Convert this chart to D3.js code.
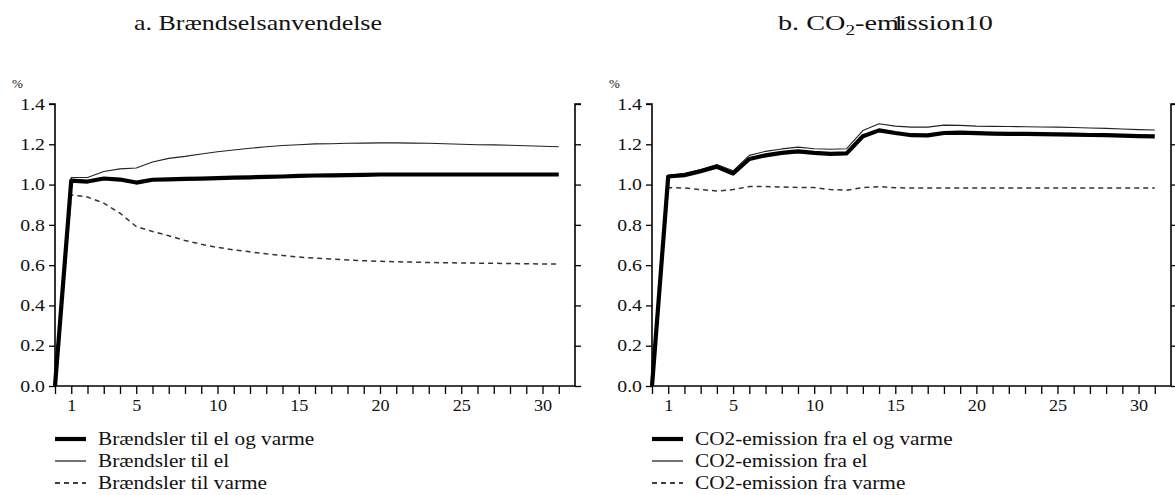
<!DOCTYPE html>
<html><head><meta charset="utf-8">
<script src="https://cdn.jsdelivr.net/npm/d3@7"></script>
<style>body{margin:0;background:#fff}svg{display:block}text{font-family:"Liberation Serif","Times New Roman",serif;fill:#111}</style>
</head><body><svg id="c" width="1175" height="495"></svg>
<script>
const periods = d3.range(0, 32);
const xTickLabels = [1, 5, 10, 15, 20, 25, 30];
const yTicks = [0, 0.2, 0.4, 0.6, 0.8, 1.0, 1.2, 1.4];

// Panel a: Brændselsanvendelse
const fuelTotal = [0, 1.02, 1.015, 1.03, 1.025, 1.01, 1.024, 1.026, 1.028, 1.03, 1.032, 1.034, 1.036, 1.038, 1.04, 1.043, 1.045, 1.046, 1.047, 1.048, 1.05, 1.05, 1.05, 1.05, 1.05, 1.05, 1.05, 1.05, 1.05, 1.05, 1.05, 1.05];
const fuelEl = [0, 1.035, 1.035, 1.065, 1.078, 1.082, 1.112, 1.13, 1.14, 1.152, 1.163, 1.172, 1.18, 1.188, 1.194, 1.198, 1.202, 1.203, 1.205, 1.206, 1.207, 1.207, 1.206, 1.205, 1.203, 1.2, 1.198, 1.197, 1.195, 1.193, 1.19, 1.188];
const fuelHeat = [0, 0.949, 0.938, 0.908, 0.858, 0.792, 0.767, 0.746, 0.722, 0.704, 0.688, 0.676, 0.666, 0.656, 0.648, 0.64, 0.635, 0.63, 0.626, 0.622, 0.619, 0.617, 0.615, 0.613, 0.612, 0.611, 0.61, 0.609, 0.608, 0.607, 0.606, 0.605];

// Panel b: CO2-emission
const co2Total = [0, 1.04, 1.047, 1.066, 1.088, 1.055, 1.127, 1.145, 1.157, 1.165, 1.157, 1.152, 1.155, 1.24, 1.269, 1.256, 1.245, 1.244, 1.256, 1.258, 1.255, 1.253, 1.252, 1.252, 1.25, 1.249, 1.248, 1.246, 1.245, 1.243, 1.241, 1.239];
const co2El = [0, 1.046, 1.055, 1.075, 1.1, 1.068, 1.145, 1.165, 1.177, 1.186, 1.178, 1.175, 1.178, 1.268, 1.302, 1.29, 1.285, 1.285, 1.295, 1.294, 1.29, 1.289, 1.288, 1.287, 1.286, 1.285, 1.283, 1.281, 1.279, 1.276, 1.273, 1.271];
const co2Heat = [0, 0.985, 0.983, 0.975, 0.968, 0.975, 0.99, 0.99, 0.988, 0.986, 0.985, 0.975, 0.972, 0.985, 0.99, 0.984, 0.983, 0.983, 0.983, 0.983, 0.983, 0.983, 0.983, 0.983, 0.983, 0.983, 0.983, 0.983, 0.983, 0.983, 0.983, 0.983];

const legendA = ["Brændsler til el og varme", "Brændsler til el", "Brændsler til varme"];
const legendB = ["CO2-emission fra el og varme", "CO2-emission fra el", "CO2-emission fra varme"];

const styles = [
  {w: 4.2, dash: null, color: "#000"},
  {w: 1.1, dash: null, color: "#222"},
  {w: 1.5, dash: "5,4", color: "#333"}
];

const svg = d3.select("#c");

// stretch text horizontally (the reference typeface is wider than Liberation Serif)
function stretch(sel, f) {
  sel.each(function() {
    const n = this.getComputedTextLength();
    if (n > 0) d3.select(this).attr("textLength", n * f).attr("lengthAdjust", "spacingAndGlyphs");
  });
}

function panel(x0, x1, series, legend, titleFn) {
  const x = d3.scaleLinear().domain([0, 32]).range([x0, x1]);
  const y = d3.scaleLinear().domain([0, 1.4]).range([386, 104]);
  const g = svg.append("g");

  titleFn(g);

  g.append("text").attr("x", x0 - 43).attr("y", 88).style("font-size", "13px").text("%");

  const yl = g.append("g").attr("transform", `translate(${x0},0)`)
    .call(d3.axisLeft(y).tickValues(yTicks).tickSize(6).tickPadding(4).tickFormat(d3.format(".1f")));
  const yr = g.append("g").attr("transform", `translate(${x1},0)`)
    .call(d3.axisRight(y).tickValues(yTicks).tickSize(6).tickFormat(""));
  const xa = g.append("g").attr("transform", `translate(0,${y(0)})`)
    .call(d3.axisBottom(x).tickValues(periods).tickSize(8).tickPadding(5)
      .tickFormat(d => xTickLabels.includes(d) ? d : ""));
  [yl, yr, xa].forEach(a => {
    a.attr("font-family", null).attr("font-size", null);
    a.select(".domain").attr("stroke", "#000").attr("stroke-width", 1.6);
    a.selectAll(".tick line").attr("stroke", "#000").attr("stroke-width", 1.3);
    a.selectAll("text").style("font-size", "16.5px").attr("fill", "#111");
  });
  stretch(yl.selectAll("text"), 1.2);
  stretch(xa.selectAll("text"), 1.1);
  yl.select(".domain").attr("d", `M-6,${y(1.4)}H0V${y(0)}`);
  yr.select(".domain").attr("d", `M6,${y(1.4)}H0V${y(0)}`);
  xa.select(".domain").attr("d", `M${x0},0H${x1}`);

  const line = d3.line().x((d, i) => x(periods[i])).y(d => y(d));
  // draw in order: heat (dashed), el (thin), total (thick)
  [2, 1, 0].forEach(k => {
    const s = styles[k];
    g.append("path").datum(series[k]).attr("d", line)
      .attr("fill", "none").attr("stroke", s.color).attr("stroke-width", s.w)
      .attr("stroke-linejoin", "round")
      .attr("stroke-dasharray", s.dash);
  });

  const ly = [439, 461, 483];
  legend.forEach((t, k) => {
    const s = styles[k];
    g.append("line").attr("x1", x0).attr("x2", x0 + 31).attr("y1", ly[k]).attr("y2", ly[k])
      .attr("stroke", "#000").attr("stroke-width", s.w).attr("stroke-dasharray", s.dash);
    const tx = g.append("text").attr("x", x0 + 43).attr("y", ly[k] + 6).style("font-size", "18.5px").text(t);
    stretch(tx, 1.15);
  });
}

panel(55, 575, [fuelTotal, fuelEl, fuelHeat], legendA, g => {
  const t = g.append("text").attr("x", 134).attr("y", 30).style("font-size", "22px").text("a. Brændselsanvendelse");
  t.attr("textLength", 248).attr("lengthAdjust", "spacingAndGlyphs");
});

panel(652, 1171, [co2Total, co2El, co2Heat], legendB, g => {
  const tg = g.append("g");
  const t = tg.append("text").attr("x", 0).attr("y", 0).style("font-size", "22px");
  t.append("tspan").text("b. CO");
  t.append("tspan").attr("dy", 5).style("font-size", "15px").text("2");
  t.append("tspan").attr("dy", -5).text("-emission10");
  const full = "b. CO2-emission10";
  const mi = full.indexOf("m");
  const p = t.node().getStartPositionOfChar(mi);
  const e = t.node().getExtentOfChar(mi);
  tg.append("text").attr("x", p.x + e.width * 0.65).attr("y", 0).style("font-size", "22px").text("1");
  const w = t.node().getBBox().width;
  tg.attr("transform", `translate(778,30) scale(${215 / w},1)`);
});
</script></body></html>
